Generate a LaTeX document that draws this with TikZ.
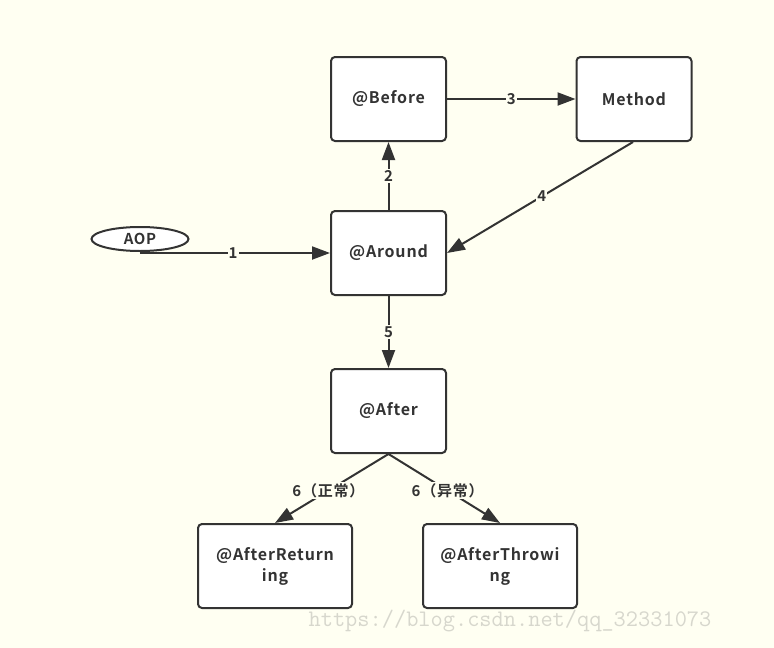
\documentclass[tikz,border=0pt]{standalone}
\usepackage{fontspec}
\setmainfont{Noto Sans CJK SC}[BoldFont={* Bold},LetterSpace=5]
\newfontfamily\wmfont{Latin Modern Mono}
\usetikzlibrary{arrows.meta,shapes.geometric}
\definecolor{bg}{RGB}{255,255,242}
\definecolor{ink}{RGB}{51,51,51}
\definecolor{wm}{RGB}{215,215,205}
\tikzset{
  box/.style={draw=ink,line width=2pt,rounded corners=4pt,fill=white,
    minimum width=115pt,minimum height=84pt,inner sep=0pt,align=center,
    text=ink,font=\fontsize{16}{21}\selectfont\bfseries},
  oval/.style={draw=ink,line width=2pt,ellipse,fill=white,minimum width=97pt,
    minimum height=24pt,inner sep=0pt,text=ink,font=\fontsize{15}{16}\selectfont\bfseries},
  conn/.style={draw=ink,line width=2pt,-{Triangle[length=18pt,width=13pt]}},
  lbl/.style={fill=bg,inner sep=1pt,text=ink,font=\fontsize{15}{16}\selectfont\bfseries}
}
\begin{document}
\begin{tikzpicture}[x=1pt,y=-1pt]
\fill[bg] (0,0) rectangle (774,648);
\useasboundingbox (0,0) rectangle (774,648);
\node[box] (before) at (388.5,99) {@Before};
\node[box] (method) at (634,99) {Method};
\node[box] (around) at (388.5,253) {@Around};
\node[box] (after) at (388.5,411) {@After};
\node[box,minimum width=154pt] (ret) at (275,566) {@AfterReturn\\ing};
\node[box,minimum width=154pt] (thr) at (500,566) {@AfterThrowi\\ng};
\node[oval] (aop) at (140,239) {AOP};
\coordinate (aopb) at (140,253);
\draw[conn] (aopb) -- node[lbl,pos=0.49]{1} (around.west);
\draw[conn] (around.north) -- node[lbl,pos=0.5]{2} (before.south);
\draw[conn] (before.east) -- node[lbl,pos=0.5]{3} (method.west);
\draw[conn] ([xshift=-1pt]method.south) -- node[lbl,pos=0.49]{4} (around.east);
\draw[conn] (around.south) -- node[lbl,pos=0.5]{5} (after.north);
\draw[conn] (after.south) -- node[lbl,pos=0.53]{6（正常）} (ret.north);
\draw[conn] (after.south) -- node[lbl,pos=0.53]{6（异常）} (thr.north);
\node[text=wm,font=\wmfont\fontsize{23.7}{24}\selectfont,inner sep=0pt] (wmk) at (510,621) {https://blog.csdn.net/qq\_32331073};
\end{tikzpicture}
\end{document}
